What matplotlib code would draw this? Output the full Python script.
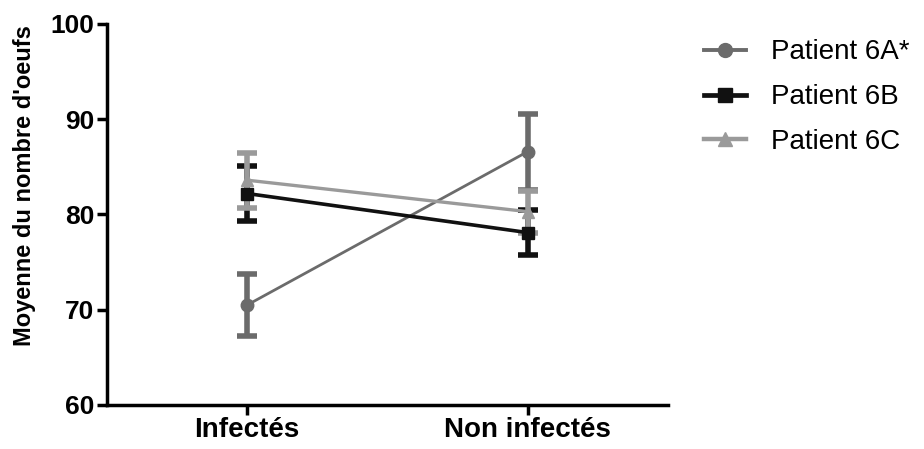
import numpy as np
import matplotlib.pyplot as plt
from matplotlib.lines import Line2D

plt.rcParams['font.family'] = ['Liberation Sans', 'DejaVu Sans']

groups = ['Infectés', 'Non infectés']
patients = ['Patient 6A*', 'Patient 6B', 'Patient 6C']
means = [[70.5, 86.6], [82.2, 78.1], [83.6, 80.3]]
errs = [[3.3, 4.0], [2.9, 2.4], [2.9, 2.2]]
colors = ['#6b6b6b', '#111111', '#9a9a9a']
markers = ['o', 's', '^']
lws = [2.0, 2.6, 2.4]

fig = plt.figure(figsize=(9.24, 4.49), dpi=100)
ax = fig.add_axes([0.1158, 0.098, 0.607, 0.8486])

x = np.arange(len(groups))
for i in range(len(patients)):
    ax.errorbar(x, means[i], yerr=errs[i], color=colors[i], marker=markers[i],
                markersize=9, lw=lws[i], elinewidth=4, capsize=7, capthick=4)

ax.set_xlim(-0.5, 1.5)
ax.set_ylim(60, 100)
ax.set_yticks([60, 70, 80, 90, 100])
ax.set_xticks(x)
ax.set_xticklabels(groups)
for lab in ax.get_xticklabels():
    lab.set_fontweight('bold')
    lab.set_fontsize(20)
for lab in ax.get_yticklabels():
    lab.set_fontweight('bold')
    lab.set_fontsize(19)
ax.spines['top'].set_visible(False)
ax.spines['right'].set_visible(False)
ax.spines['left'].set_linewidth(2.5)
ax.spines['bottom'].set_linewidth(2.5)
ax.tick_params(width=2.5, length=7, pad=2)
ax.set_ylabel("Moyenne du nombre d'oeufs", fontsize=17, fontweight='bold')
ax.yaxis.set_label_coords(-0.127, 0.575)

handles = [Line2D([], [], color=colors[i], marker=markers[i], markersize=10,
                  lw=lws[i] + 0.8) for i in range(len(patients))]
fig.legend(handles, patients, loc='upper left', bbox_to_anchor=(0.735, 0.968),
           frameon=False, fontsize=20, handlelength=1.5, handletextpad=0.9,
           labelspacing=0.68)

fig.savefig('out.png', dpi=100)
